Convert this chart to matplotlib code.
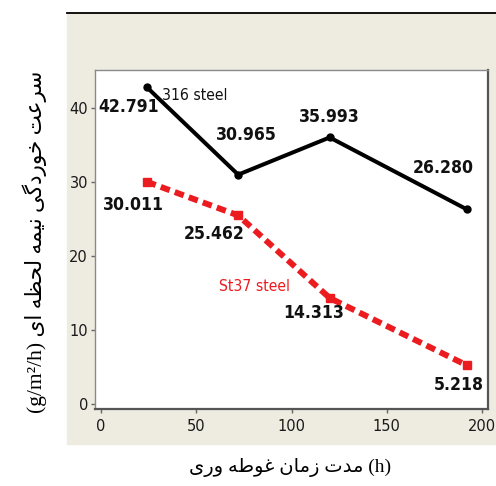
import matplotlib
matplotlib.use('Agg')
import matplotlib.pyplot as plt
from matplotlib import font_manager
from matplotlib.patches import Rectangle
from matplotlib.lines import Line2D

# immersion time (h)
hours = [24, 72, 120, 192]
steel_316 = [42.791, 30.965, 35.993, 26.280]
steel_st37 = [30.011, 25.462, 14.313, 5.218]
xticks = [0, 50, 100, 150, 200]
yticks = [0, 10, 20, 30, 40]

# label offsets in pixels from each point
off_316 = [(-18, -20), (8, 40), (0, 20), (-24, 41)]
off_st37 = [(-13, -23), (-24, -19), (-16, -15), (-8, -20)]

# minimal arabic/persian shaping (matplotlib has no text shaping)
FORMS = {
    'م': (0xFEE1, 0xFEE2, 0xFEE3, 0xFEE4), 'ت': (0xFE95, 0xFE96, 0xFE97, 0xFE98),
    'ن': (0xFEE5, 0xFEE6, 0xFEE7, 0xFEE8), 'غ': (0xFECD, 0xFECE, 0xFECF, 0xFED0),
    'ط': (0xFEC1, 0xFEC2, 0xFEC3, 0xFEC4), 'ه': (0xFEE9, 0xFEEA, 0xFEEB, 0xFEEC),
    'ی': (0xFBFC, 0xFBFD, 0xFBFE, 0xFBFF), 'س': (0xFEB1, 0xFEB2, 0xFEB3, 0xFEB4),
    'ع': (0xFEC9, 0xFECA, 0xFECB, 0xFECC), 'خ': (0xFEA5, 0xFEA6, 0xFEA7, 0xFEA8),
    'گ': (0xFB92, 0xFB93, 0xFB94, 0xFB95), 'ل': (0xFEDD, 0xFEDE, 0xFEDF, 0xFEE0),
    'ح': (0xFEA1, 0xFEA2, 0xFEA3, 0xFEA4), 'ظ': (0xFEC5, 0xFEC6, 0xFEC7, 0xFEC8),
    'د': (0xFEA9, 0xFEAA), 'ز': (0xFEAF, 0xFEB0), 'ا': (0xFE8D, 0xFE8E),
    'و': (0xFEED, 0xFEEE), 'ر': (0xFEAD, 0xFEAE),
}


def shape_rtl(s):
    out = []
    for i, c in enumerate(s):
        if c not in FORMS:
            out.append(c)
            continue
        f = FORMS[c]
        prev = s[i - 1] if i > 0 else ''
        nxt = s[i + 1] if i + 1 < len(s) else ''
        jp = prev in FORMS and len(FORMS[prev]) == 4
        jn = len(f) == 4 and nxt in FORMS
        if jp and jn:
            g = f[3]
        elif jp:
            g = f[1]
        elif jn:
            g = f[2]
        else:
            g = f[0]
        out.append(chr(g))
    return ''.join(out)[::-1]


xlabel = shape_rtl('مدت زمان غوطه وری') + ' (h)'
ylabel = '(g/m²/h) ' + shape_rtl('سرعت خوردگی نیمه لحظه ای')

# narrow font for numbers, if one is around
names = {f.name for f in font_manager.fontManager.ttflist}
stretch = 'normal'
if 'Liberation Sans Narrow' in names:
    narrow = ['Liberation Sans Narrow']
    scale = 1.0
else:
    path = font_manager.findfont(font_manager.FontProperties(
        family='DejaVu Sans', stretch='condensed'))
    if 'Condensed' in path:
        narrow = ['DejaVu Sans']
        stretch = 'condensed'
        scale = 0.9
    else:
        narrow = ['Liberation Sans']
        scale = 0.88
serif_ar = ['Liberation Serif', 'DejaVu Sans']

W, H = 496, 486
fig = plt.figure(figsize=(W / 100, H / 100), dpi=100)

# beige panel with black rule on top
fig.patches.append(Rectangle((67 / W, 1 - 444 / H), 1 - 67 / W, (444 - 13) / H,
                             transform=fig.transFigure, color='#EEEBE1', zorder=-5))
fig.add_artist(Line2D([67 / W, 1], [1 - 13 / H, 1 - 13 / H], color='black', lw=1.3))

ax = fig.add_axes([95 / W, 1 - 409 / H, (488 - 95) / W, (409 - 70) / H])
ax.set_zorder(2)
ax.set_facecolor('white')

ax.plot(hours, steel_316, color='black', lw=2.9, marker='o', ms=5,
        solid_capstyle='round', zorder=3)
red, = ax.plot(hours, steel_st37, color='#EC1B1F', lw=4.3, marker='s', ms=5.5,
               dash_capstyle='butt', zorder=3)
red.set_dashes([1.6, 0.9])

for x, y, o in zip(hours, steel_316, off_316):
    ax.annotate(f'{y:.3f}', (x, y), xytext=o, textcoords='offset pixels',
                ha='center', va='center', fontsize=14 * scale, fontweight='bold',
                family=narrow, fontstretch=stretch, color='#111111')
for x, y, o in zip(hours, steel_st37, off_st37):
    ax.annotate(f'{y:.3f}', (x, y), xytext=o, textcoords='offset pixels',
                ha='center', va='center', fontsize=14 * scale, fontweight='bold',
                family=narrow, fontstretch=stretch, color='#111111')

ax.annotate('316 steel', (hours[0], steel_316[0]), xytext=(15, -8),
            textcoords='offset pixels', ha='left', va='center',
            fontsize=12.5 * scale, family=narrow, fontstretch=stretch,
            color='#111111')
ax.annotate('St37 steel', (hours[2], steel_st37[2]), xytext=(-75, 11),
            textcoords='offset pixels', ha='center', va='center',
            fontsize=12.5 * scale, family=narrow, fontstretch=stretch,
            color='#EC1B1F')

ax.set_xlim(-3.15, 203.1)
ax.set_ylim(-0.68, 45.1)
ax.set_xticks(xticks)
ax.set_yticks(yticks)
ax.tick_params(length=3, width=1, color='#666666', labelsize=13 * scale,
               labelcolor='#1a1a1a')
ax.tick_params(axis='x', pad=4)
ax.tick_params(axis='y', pad=2)
for lab in ax.get_xticklabels() + ax.get_yticklabels():
    lab.set_family(narrow)
    lab.set_fontstretch(stretch)

for side in ['left', 'top']:
    ax.spines[side].set_color('#8a8a8a')
    ax.spines[side].set_linewidth(1)
for side in ['right', 'bottom']:
    ax.spines[side].set_color('#555555')
    ax.spines[side].set_linewidth(1.6)

fig.text(290.5 / W, 1 - 467 / H, xlabel, ha='center', va='center',
         fontsize=14, family=serif_ar)
fig.text(35 / W, 1 - 242 / H, ylabel, ha='center', va='center', rotation=90,
         fontsize=15.5, family=serif_ar)

fig.savefig('out.png', dpi=100, facecolor='white')
